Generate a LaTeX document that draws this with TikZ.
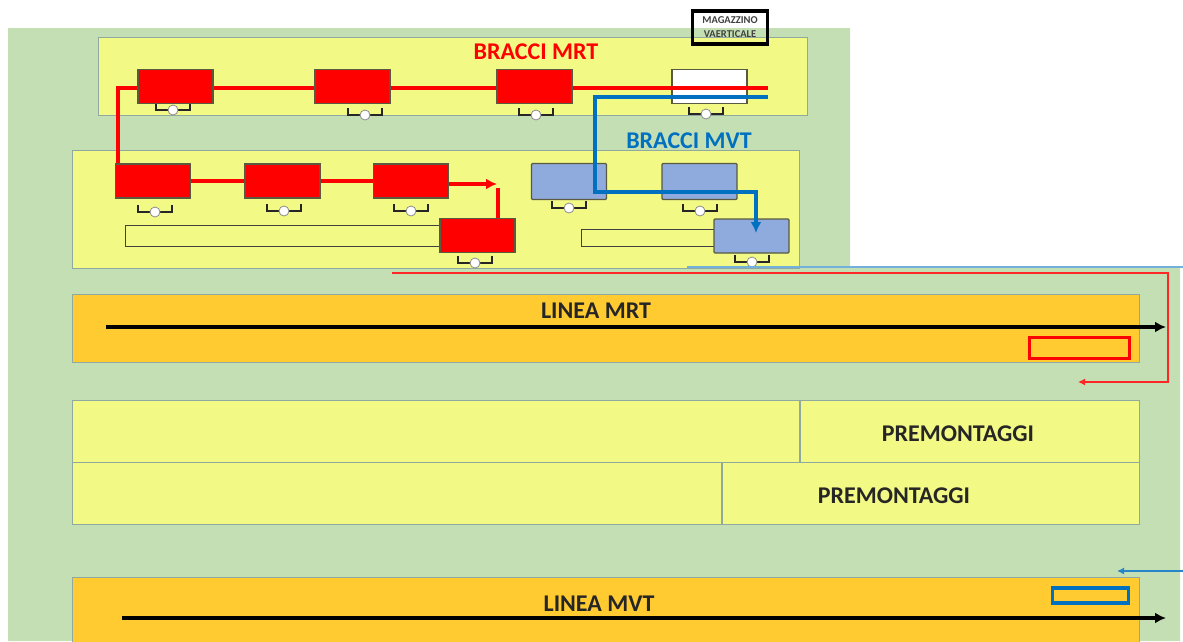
\documentclass[tikz,border=0pt]{standalone}
\usepackage{fontspec}
\setmainfont{Carlito}
\usetikzlibrary{calc,positioning,arrows.meta}

\definecolor{plantgreen}{HTML}{C5DFB4}
\definecolor{areayellow}{HTML}{F2F984}
\definecolor{lineorange}{HTML}{FFCB30}
\definecolor{edgegrey}{HTML}{8FA8A0}
\definecolor{mvtblue}{HTML}{0070C0}
\definecolor{boxblue}{HTML}{8FAADC}
\definecolor{boxedge}{HTML}{5A5A40}

\tikzset{
  panel/.style={draw=edgegrey, fill=#1, line width=1.2pt, inner sep=0pt, anchor=north west},
  station/.style={draw=boxedge, line width=1.2pt, minimum width=75pt, minimum height=34pt, inner sep=0pt},
  redbox/.style={station, fill=red},
  bluebox/.style={station, fill=boxblue, rounded corners=1pt},
  slot/.style={draw=black!75, line width=1.3pt, fill=areayellow},
  wheel/.style={circle, draw=black!45, fill=white, line width=0.8pt, minimum size=10pt, inner sep=0pt},
  bracket/.style={draw=black!85, line width=1.7pt},
  redline/.style={draw=red, line width=3.5pt},
  blueline/.style={draw=mvtblue, line width=3.5pt},
  bigtip/.style={-{Latex[length=11pt, width=11pt]}},
  smalltip/.style={-{Latex[length=7pt, width=7pt]}},
  title/.style={font=\fontsize{24}{28}\selectfont\bfseries, text=black!85}
}

\begin{document}
\begin{tikzpicture}[x=1pt, y=-1pt]
\useasboundingbox (0,0) rectangle (1183,641);

% background
\fill[plantgreen] (8,28) -- (850,28) -- (850,267) -- (1180,267) -- (1180,641) -- (8,641) -- cycle;

% areas
\node[panel=areayellow, minimum width=709pt, minimum height=78pt] (areaTop) at (98,37) {};
\node[panel=areayellow, minimum width=727pt, minimum height=118pt] (areaMid) at (72,149.5) {};
\node[panel=lineorange, minimum width=1067pt, minimum height=68pt] (lineaMrt) at (72,293.5) {};
\node[panel=areayellow, minimum width=727pt, minimum height=62pt] (preA) at (72,400) {};
\node[panel=areayellow, right=0pt of preA.north east, anchor=north west, minimum width=339pt, minimum height=62pt] (preB) {};
\node[panel=areayellow, minimum width=649pt, minimum height=62pt] (preC) at (72,462) {};
\node[panel=areayellow, right=0pt of preC.north east, anchor=north west, minimum width=417pt, minimum height=62pt] (preD) {};
\node[panel=lineorange, minimum width=1067pt, minimum height=70pt] (lineaMvt) at (72,576.5) {};

% slots
\node[slot, anchor=north west, minimum width=316pt, minimum height=21pt, inner sep=0pt] (slotRed) at (125,225) {};
\node[slot, anchor=north west, minimum width=133pt, minimum height=17pt, inner sep=0pt] (slotBlue) at (581,229) {};

% grippers
\foreach \name/\x/\y in {gripA/173/110, gripB/365/115, gripC/536/115, gripD/706/114,
                         gripE/155/212, gripF/284/211, gripG/411/211, gripH/475/263,
                         gripI/569/208, gripJ/700/211, gripK/752/262}{
  \draw[bracket] (\x,\y) ++(-17,-7) |- ++(34,7) -- ++(0,-7);
  \node[wheel] (\name) at (\x,\y) {};
}

% stations
\node[station, fill=white] (mrtD) at (709.5,86.5) {};

\coordinate (redEnd) at (768,88);
\coordinate (redTurn) at (118,88);
\coordinate (redDrop) at (118,170);
\draw[redline] (redEnd) -- (redTurn) -- (redDrop);

\node[redbox] (mrtA) at (175.5,86.5) {};
\node[redbox] (mrtB) at (352.5,86.5) {};
\node[redbox] (mrtC) at (534.5,86.5) {};
\node[redbox] (rowA) at (153,181) {};
\node[redbox] (rowB) at (282.5,181) {};
\node[redbox] (rowC) at (411,181) {};
\node[redbox] (rowD) at (477.5,235.5) {};

\node[bluebox, minimum height=36pt] (mvtA) at (569,181.5) {};
\node[bluebox, minimum height=36pt] (mvtB) at (699.5,181.5) {};
\node[bluebox] (mvtC) at (751.5,236) {};

% flows
\coordinate (redTip) at (497,184);
\coordinate (redRise) at (498,188);
\draw[redline] (rowA.east) -- (rowB.west);
\draw[redline] (rowB.east) -- (rowC.west);
\draw[redline, bigtip] (rowC.east |- redTip) -- (redTip);
\draw[redline] (rowD.north -| redRise) -- (redRise);

\coordinate (blueEnd) at (768,97);
\coordinate (blueTurnA) at (595,97);
\coordinate (blueTurnB) at (595,192);
\coordinate (blueTurnC) at (756,192);
\coordinate (blueTip) at (756,233);
\draw[blueline, bigtip] (blueEnd) -- (blueTurnA) -- (blueTurnB) -- (blueTurnC) -- (blueTip);

% return lines
\coordinate (feedBlueA) at (687,267);
\coordinate (feedBlueB) at (1183,267);
\draw[draw=mvtblue!55, line width=2.5pt] (feedBlueA) -- (feedBlueB);

\coordinate (feedRedA) at (392,273);
\coordinate (feedRedB) at (1168,273);
\coordinate (feedRedC) at (1168,382);
\coordinate (feedRedD) at (1078,382);
\draw[draw=red!85, line width=1.7pt, smalltip] (feedRedA) -- (feedRedB) -- (feedRedC) -- (feedRedD);

\coordinate (feedMvtA) at (1183,571);
\coordinate (feedMvtB) at (1117,571);
\draw[draw=mvtblue!85, line width=1.7pt, smalltip] (feedMvtA) -- (feedMvtB);

% line markers
\node[draw=red, line width=3.5pt, anchor=north west, minimum width=100pt, minimum height=21pt, inner sep=0pt] (markMrt) at (1027.5,335.5) {};
\node[draw=mvtblue, line width=3.5pt, anchor=north west, minimum width=76pt, minimum height=15pt, inner sep=0pt] (markMvt) at (1050.5,586) {};

% main arrows
\coordinate (mrtStart) at (106,327);
\coordinate (mrtStop) at (1166,327);
\coordinate (mvtStart) at (122,618);
\coordinate (mvtStop) at (1166,618);
\draw[line width=3.5pt, bigtip] (mrtStart) -- (mrtStop);
\draw[line width=3.5pt, bigtip] (mvtStart) -- (mvtStop);

% store
\node[draw=black, line width=3.5pt, minimum width=75pt, minimum height=33pt, inner sep=0pt, align=center,
      font=\fontsize{10.5}{14}\selectfont\bfseries, text=black!75] (store) at (730,27.5) {MAGAZZINO\\VAERTICALE};

% labels
\node[title, text=red] (labelMrt) at (536,52) {BRACCI MRT};
\node[title, text=mvtblue] (labelMvt) at (689,141) {BRACCI MVT};
\node[title] (labelLineaMrt) at (596,311) {LINEA MRT};
\node[title] (labelPreB) at (958,434) {PREMONTAGGI};
\node[title] (labelPreD) at (894,496) {PREMONTAGGI};
\node[title] (labelLineaMvt) at (599,604) {LINEA MVT};

\end{tikzpicture}
\end{document}
